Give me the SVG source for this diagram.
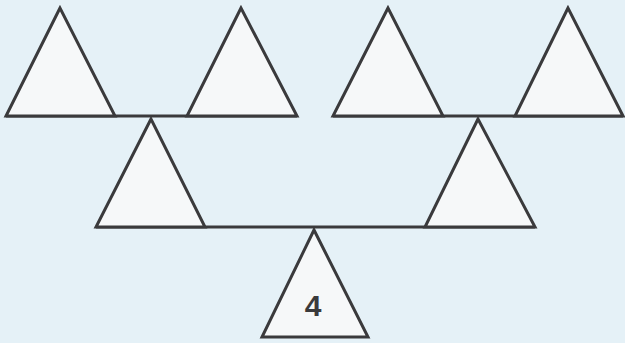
<svg xmlns="http://www.w3.org/2000/svg" width="625" height="343" viewBox="0 0 625 343">
<style>
.tri{fill:#f6f8f9;stroke:#3a3a3c;stroke-width:3;stroke-linejoin:miter}
.bar{stroke:#3a3a3c;stroke-width:3;fill:none}
.lbl{font-family:"Liberation Sans",Arial,sans-serif;font-weight:bold;font-size:30px;fill:#3a3a3c;text-anchor:middle}
</style>
<rect width="625" height="343" fill="#e5f1f7"/>
<g id="connectors">
<line class="bar" x1="6" y1="116" x2="297" y2="116"/>
<line class="bar" x1="333" y1="116" x2="623" y2="116"/>
<line class="bar" x1="96" y1="227" x2="535" y2="227"/>
</g>
<g id="t1"><polygon class="tri" points="60,8 6,116 115,116"/></g>
<g id="t2"><polygon class="tri" points="241,8 187,116 297,116"/></g>
<g id="t3"><polygon class="tri" points="388,8 333,116 443,116"/></g>
<g id="t4"><polygon class="tri" points="568,8 515,116 623,116"/></g>
<g id="t5"><polygon class="tri" points="151,119 96,227 205,227"/></g>
<g id="t6"><polygon class="tri" points="478,119 425,227 535,227"/></g>
<g id="t7"><polygon class="tri" points="314,230 262,337 368,337"/><text class="lbl" x="313" y="316">4</text></g>
</svg>
